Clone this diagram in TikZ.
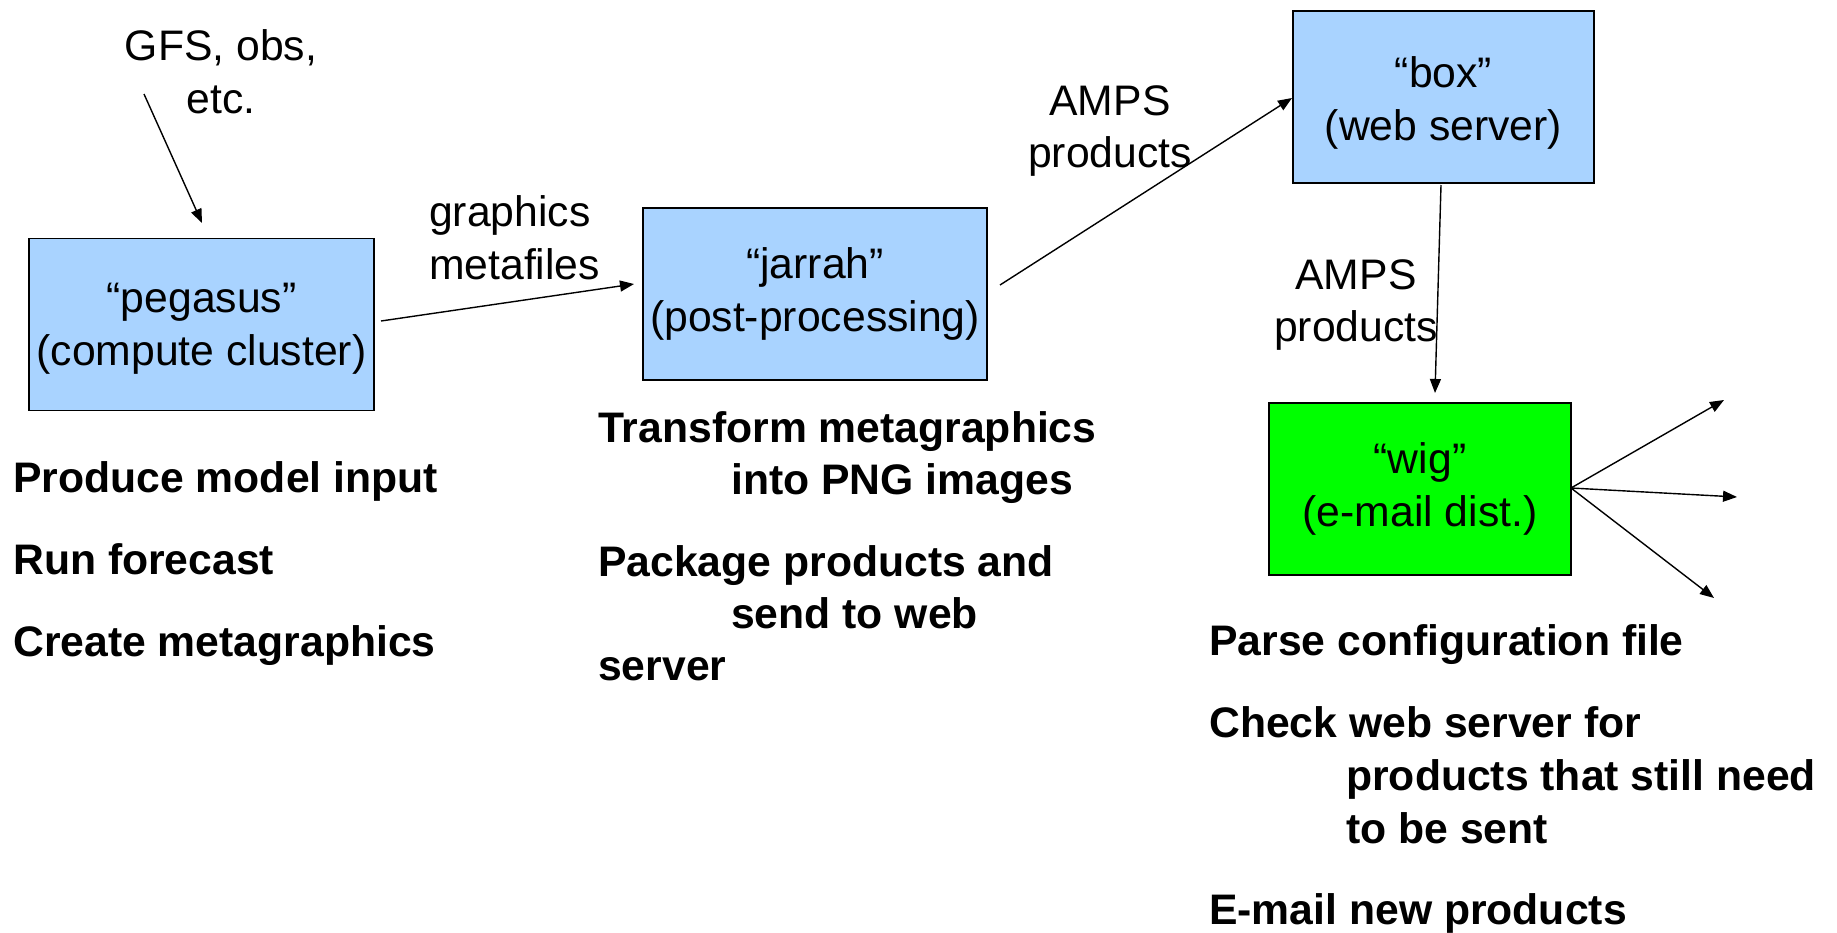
\documentclass[tikz,border=0pt]{standalone}
\usepackage{fontspec}
\setmainfont{Liberation Sans}
\usetikzlibrary{arrows.meta}
\definecolor{boxblue}{RGB}{169,211,255}
\definecolor{boxgreen}{RGB}{0,255,0}
\tikzset{
  big/.style={font=\fontsize{42.7}{52.7}\selectfont},
  bigb/.style={font=\fontsize{42.7}{52.7}\selectfont\bfseries},
  machine/.style={draw=black, line width=1.8pt, inner sep=0pt, big, align=center},
  lbl/.style={big, inner sep=0pt},
  item/.style={bigb, inner sep=0pt, anchor=base west},
  arr/.style={draw=black, line width=1.4pt, -{Triangle[length=14pt,width=11pt]}}
}
\begin{document}
\begin{tikzpicture}[x=1pt,y=-1pt]
\useasboundingbox (0,0) rectangle (1837,932);
% machines
\node[machine, fill=boxblue, minimum width=345pt, minimum height=172pt] (peg) at (201.5,324.5) {\rule{0pt}{38pt}“pegasus”\\(compute cluster)};
\node[machine, fill=boxblue, minimum width=344pt, minimum height=172pt] (jar) at (815,294) {“jarrah”\\(post-processing)};
\node[machine, fill=boxblue, minimum width=301pt, minimum height=172pt] (box) at (1443.5,97) {\rule{0pt}{43pt}“box”\\(web server)};
\node[machine, fill=boxgreen, minimum width=302pt, minimum height=172pt] (wig) at (1420,489) {“wig”\\(e-mail dist.)};
% labels
\node[lbl, align=center] (gfs) at (221,72) {GFS, obs,\\etc.};
\node[lbl, align=left, anchor=west] (gm) at (429,238) {graphics\\metafiles};
\node[lbl, align=center] (amps1) at (1110,131) {AMPS\\products};
\node[lbl, align=center] (amps2) at (1356,305) {AMPS\\products};
% connector end points
\coordinate (g0) at (144,94);
\coordinate (g1) at (202,223);
\coordinate (p0) at (381,321);
\coordinate (p1) at (634,284);
\coordinate (j0) at (1000,285);
\coordinate (j1) at (1292,98);
\coordinate (b0) at (1441,185);
\coordinate (b1) at (1435,393);
\coordinate (w0) at (1571,488);
\coordinate (w1) at (1724,400);
\coordinate (w2) at (1737,497);
\coordinate (w3) at (1714,598);
% connectors
\draw[arr] (g0) -- (g1);
\draw[arr] (p0) -- (p1);
\draw[arr] (j0) -- (j1);
\draw[arr] (b0) -- (b1);
\draw[arr] (w0) -- (w1);
\draw[arr] (w0) -- (w2);
\draw[arr] (w0) -- (w3);
% task lists
\node[item] (l1) at (13,492) {Produce model input};
\node[item] (l2) at (13,574) {Run forecast};
\node[item] (l3) at (13,656) {Create metagraphics};
\node[item] (m1) at (598,442) {Transform metagraphics};
\node[item] (m2) at (731,494) {into PNG images};
\node[item] (m3) at (598,576) {Package products and};
\node[item] (m4) at (731,628) {send to web};
\node[item] (m5) at (598,680) {server};
\node[item] (r1) at (1209,655) {Parse configuration file};
\node[item] (r2) at (1209,737) {Check web server for};
\node[item] (r3) at (1346,790) {products that still need};
\node[item] (r4) at (1346,843) {to be sent};
\node[item] (r5) at (1209,924) {E-mail new products};
\end{tikzpicture}
\end{document}
